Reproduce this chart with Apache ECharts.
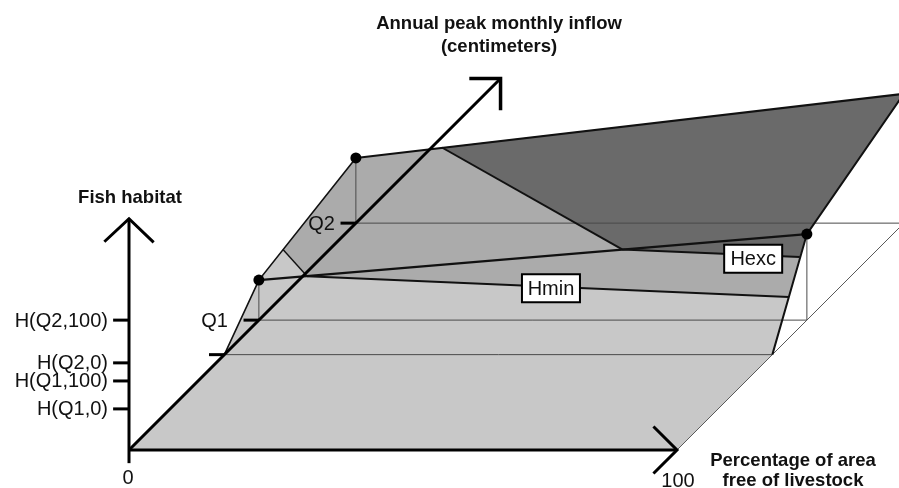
<!DOCTYPE html>
<html><head><meta charset="utf-8">
<script src="https://cdn.jsdelivr.net/npm/echarts@6/dist/echarts.min.js"></script>
<style>html,body{margin:0;padding:0;background:#fff}#c{width:899px;height:488px}</style>
</head><body><div id="c"></div>
<script>
// ---- Diagram data (units: horizontal axis = percentage of area free of livestock, 0–100;
//      the same unit is used vertically; the inflow axis is drawn obliquely at 45°) ----
const percentAxis = [0, 100];
const habitatAxisTop = 42.2;
const inflowAxisEnd = 67.8;
const habitatTickValues = [23.7, 15.9, 12.6, 7.5];
const habitatTickLabels = ['H(Q2,100)', 'H(Q2,0)', 'H(Q1,100)', 'H(Q1,0)'];
const inflowTickValues = [17.4, 23.7, 41.4];
const inflowTickLabels = ['', 'Q1', 'Q2'];
const percentTickLabels = ['0', '100'];

// habitat surface
const surfaceLeftEdge = [[17.4, 17.4], [23.7, 31.0], [41.4, 53.3]];
const surfaceTopEdge = [[41.4, 53.3], [141.4, 65.0]];
const surfaceRightEdge = [[141.4, 65.0], [123.7, 39.4], [117.4, 17.4]];
const peakDots = [[23.7, 31.0], [41.4, 53.3], [123.7, 39.4]];
const peakDotLevel = [1, 2, 1];           // index into inflowTickValues
const q1SurfaceLine = [[23.7, 31.0], [123.7, 39.4]];
const hminLine = [[32.5, 31.7], [120.4, 27.9]];
const hexcLine = [[90.0, 36.6], [122.4, 35.2]];
const darkBoundary = [[57.1, 55.2], [90.0, 36.6]];
const shortDivider = [[28.1, 36.6], [32.5, 31.7]];

const lightRegion = [[0, 0], [100, 0], [117.4, 17.4], [120.4, 27.9], [32.5, 31.7], [28.1, 36.6], [23.7, 31.0], [17.4, 17.4]];
const upperRegion = [[41.4, 53.3], [57.1, 55.2], [90.0, 36.6], [32.5, 31.7], [28.1, 36.6]];
const middleBand = [[32.5, 31.7], [90.0, 36.6], [122.4, 35.2], [120.4, 27.9]];
const darkRegion = [[57.1, 55.2], [141.4, 65.0], [123.7, 39.4], [122.4, 35.2], [90.0, 36.6]];

const boxLabels = ['Hexc', 'Hmin'];
const boxLabelAnchors = [[113.9, 34.9], [77.0, 29.5]];

// ---- layout / style ----
const PX = 5.48, OX = 129, OY = 450, W = 899, H = 488;
const FONT = '"Liberation Sans", Arial, Helvetica, sans-serif';
const C = { light: '#c8c8c8', mid: '#ababab', dark: '#6a6a6a', thin: '#4a4a4a' };

const shapes = [];
shapes.push({ k: 'poly', pts: lightRegion, fill: C.light });
shapes.push({ k: 'poly', pts: upperRegion, fill: C.mid });
shapes.push({ k: 'poly', pts: middleBand, fill: C.mid });
shapes.push({ k: 'poly', pts: darkRegion, fill: C.dark });
// base plane
inflowTickValues.forEach(q => shapes.push({ k: 'line', pts: [[q, q], [q + percentAxis[1], q]], w: 1, c: C.thin }));
const qMax = inflowTickValues[2];
shapes.push({ k: 'line', pts: [[percentAxis[1], 0], [percentAxis[1] + qMax, qMax]], w: 1, c: '#5a5a5a' });
peakDots.forEach((d, i) => shapes.push({ k: 'line', pts: [d, [d[0], inflowTickValues[peakDotLevel[i]]]], w: 1, c: C.thin }));
// surface lines
shapes.push({ k: 'line', pts: surfaceLeftEdge, w: 1.6, c: '#111' });
shapes.push({ k: 'line', pts: surfaceTopEdge, w: 2, c: '#111' });
shapes.push({ k: 'line', pts: surfaceRightEdge, w: 2, c: '#111' });
shapes.push({ k: 'line', pts: q1SurfaceLine, w: 2.4, c: '#111' });
shapes.push({ k: 'line', pts: hminLine, w: 2, c: '#111' });
shapes.push({ k: 'line', pts: hexcLine, w: 2, c: '#111' });
shapes.push({ k: 'line', pts: darkBoundary, w: 2, c: '#111' });
shapes.push({ k: 'line', pts: shortDivider, w: 1.4, c: '#111' });
// axes
shapes.push({ k: 'line', pts: [[0, -2.4], [0, habitatAxisTop]], w: 3, c: '#000' });
shapes.push({ k: 'line', pts: [[-4.5, habitatAxisTop - 4.2], [0, habitatAxisTop], [4.5, habitatAxisTop - 4.3]], w: 3, c: '#000' });
shapes.push({ k: 'line', pts: [[0, 0], [percentAxis[1], 0]], w: 3, c: '#000' });
shapes.push({ k: 'line', pts: [[percentAxis[1] - 4.3, 4.3], [percentAxis[1], 0], [percentAxis[1] - 4.3, -4.3]], w: 3, c: '#000' });
shapes.push({ k: 'line', pts: [[0, 0], [inflowAxisEnd, inflowAxisEnd]], w: 3, c: '#000' });
shapes.push({ k: 'line', pts: [[inflowAxisEnd - 5.7, inflowAxisEnd], [inflowAxisEnd, inflowAxisEnd], [inflowAxisEnd, inflowAxisEnd - 5.8]], w: 3.5, c: '#000' });
inflowTickValues.forEach(q => shapes.push({ k: 'line', pts: [[q - 2.8, q], [q, q]], w: 3, c: '#000' }));
habitatTickValues.forEach(v => shapes.push({ k: 'line', pts: [[-2.9, v], [0, v]], w: 3, c: '#000' }));
// dots
peakDots.forEach(d => shapes.push({ k: 'dot', at: d }));
// labels
habitatTickValues.forEach((v, i) => shapes.push({ k: 'text', at: [0, v], dx: -21, dy: 1, text: habitatTickLabels[i], align: 'right' }));
const qLabelOffsets = [0, -15, -5];
inflowTickValues.forEach((q, i) => { if (inflowTickLabels[i]) shapes.push({ k: 'text', at: [q, q], dx: qLabelOffsets[i] - 16, dy: 1, text: inflowTickLabels[i], align: 'right' }); });
shapes.push({ k: 'text', at: [percentAxis[0], 0], dx: -1, dy: 28, text: percentTickLabels[0], align: 'center' });
shapes.push({ k: 'text', at: [percentAxis[1], 0], dx: 1, dy: 31, text: percentTickLabels[1], align: 'center' });
boxLabels.forEach((t, i) => shapes.push({ k: 'box', at: boxLabelAnchors[i], text: t }));

function render(params, api) {
  const s = shapes[params.dataIndex];
  const P = p => api.coord(p);
  if (s.k === 'poly') return { type: 'polygon', shape: { points: s.pts.map(P) }, style: { fill: s.fill, stroke: null } };
  if (s.k === 'line') return { type: 'polyline', shape: { points: s.pts.map(P) }, style: { stroke: s.c, lineWidth: s.w, fill: null, lineJoin: 'miter', lineCap: 'butt' } };
  if (s.k === 'dot') { const p = P(s.at); return { type: 'circle', shape: { cx: p[0], cy: p[1], r: 5.5 }, style: { fill: '#000' } }; }
  if (s.k === 'text') { const p = P(s.at); return { type: 'text', x: p[0] + s.dx, y: p[1] + s.dy, style: { text: s.text, font: '20px ' + FONT, fill: '#111', align: s.align, verticalAlign: 'middle' } }; }
  if (s.k === 'box') {
    const p = P(s.at);
    return { type: 'group', children: [
      { type: 'rect', shape: { x: p[0] - 29, y: p[1] - 14, width: 58, height: 28 }, style: { fill: '#fff', stroke: '#000', lineWidth: 2 } },
      { type: 'text', x: p[0], y: p[1] + 1, style: { text: s.text, font: '20px ' + FONT, fill: '#111', align: 'center', verticalAlign: 'middle' } }
    ] };
  }
}

const chart = echarts.init(document.getElementById('c'), null, { renderer: 'canvas' });
chart.setOption({
  animation: false,
  backgroundColor: '#fff',
  grid: { left: 0, right: 0, top: 0, bottom: 0 },
  xAxis: { type: 'value', min: -OX / PX, max: (W - OX) / PX, show: false },
  yAxis: { type: 'value', min: -(H - OY) / PX, max: OY / PX, show: false },
  graphic: [
    { type: 'text', x: 499, y: 24, style: { text: 'Annual peak monthly inflow', font: 'bold 18.5px ' + FONT, fill: '#111', align: 'center', verticalAlign: 'middle' } },
    { type: 'text', x: 499, y: 47, style: { text: '(centimeters)', font: 'bold 18.5px ' + FONT, fill: '#111', align: 'center', verticalAlign: 'middle' } },
    { type: 'text', x: 130, y: 198, style: { text: 'Fish habitat', font: 'bold 18.5px ' + FONT, fill: '#111', align: 'center', verticalAlign: 'middle' } },
    { type: 'text', x: 793, y: 461, style: { text: 'Percentage of area', font: 'bold 18.5px ' + FONT, fill: '#111', align: 'center', verticalAlign: 'middle' } },
    { type: 'text', x: 793, y: 481, style: { text: 'free of livestock', font: 'bold 18.5px ' + FONT, fill: '#111', align: 'center', verticalAlign: 'middle' } }
  ],
  series: [{
    type: 'custom',
    coordinateSystem: 'cartesian2d',
    clip: false,
    silent: true,
    renderItem: render,
    data: shapes.map(() => [0, 0])
  }]
});
</script></body></html>
